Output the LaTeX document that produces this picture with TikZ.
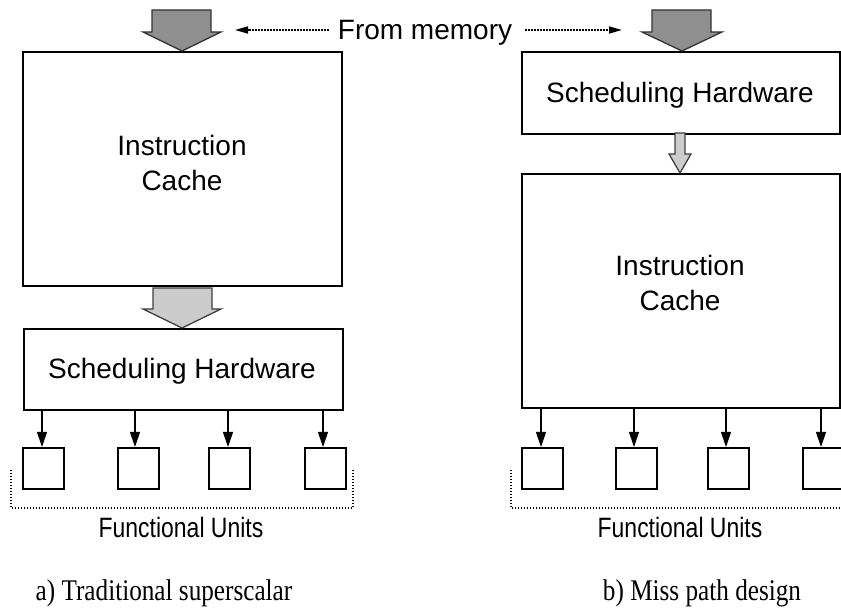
\documentclass[tikz,border=0pt]{standalone}
\usepackage{fontspec}
\setmainfont{Liberation Serif}
\setsansfont{Liberation Sans}
\usetikzlibrary{arrows.meta}

\tikzset{
  block/.style={draw, line width=1.6pt, inner sep=0pt, anchor=north west},
  unitbox/.style={draw, line width=1.6pt, inner sep=0pt, anchor=north west,
                  minimum width=41pt, minimum height=41pt},
  lbl/.style={inner sep=0pt, anchor=base, font=\sffamily\fontsize{28}{34}\selectfont},
  caption/.style={inner sep=0pt, anchor=base, font=\rmfamily\fontsize{30}{36}\selectfont},
  feed/.style={line width=1.2pt, -{Triangle[length=15pt,width=10pt]}},
  fatdark/.style={fill=black!44, draw=black!80, line width=1.3pt, line join=miter},
  fatlight/.style={fill=black!20, draw=black!75, line width=1.3pt, line join=miter},
  dotline/.style={line width=1.6pt, dash pattern=on 1.4pt off 1.6pt},
  memarrow/.style={dotline, -{Triangle[length=13pt,width=7pt]}, shorten >=0pt}
}

\begin{document}
\begin{tikzpicture}[x=1pt,y=-1pt]
\useasboundingbox (0,0) rectangle (841,609);

% ---------- a) traditional superscalar ----------
\node[block, minimum width=319pt, minimum height=234pt] (icA) at (22,51) {};
\node[lbl] (icAt1) at (182,156) {Instruction};
\node[lbl] (icAt2) at (182,191) {Cache};

\node[block, minimum width=319pt, minimum height=81pt] (shA) at (23,328) {};
\node[lbl] (shAt) at (182,379) {Scheduling Hardware};

% wide fetch arrows
\path[fatdark] (152,10) -- (211,10) -- (211,32) -- (221,32) -- (182,51)
  -- (143,32) -- (152,32) -- cycle;
\path[fatlight] (153,288) -- (212,288) -- (212,309) -- (221,309) -- (182,328)
  -- (143,309) -- (153,309) -- cycle;

% functional units
\node[unitbox] (uA1) at (22,447) {};
\node[unitbox] (uA2) at (117,447) {};
\node[unitbox] (uA3) at (208,447) {};
\node[unitbox] (uA4) at (304,447) {};
\coordinate (fA1) at (42,409);
\coordinate (fA2) at (135,409);
\coordinate (fA3) at (228,409);
\coordinate (fA4) at (323,409);
\foreach \i in {1,...,4} \draw[feed] (fA\i) -- (fA\i |- uA\i.north);

\draw[dotline] (11,470) -- (11,508) -- (353,508) -- (353,469);
\node[lbl] (fuA) at (181,537) {\scalebox{0.82}[1]{Functional Units}};
\node[caption] (capA) at (164,600) {\scalebox{0.84}[1]{a) Traditional superscalar}};

% ---------- b) miss path design ----------
\node[block, minimum width=318pt, minimum height=82pt] (shB) at (521,51) {};
\node[lbl] (shBt) at (680,103) {Scheduling Hardware};

\node[block, minimum width=318pt, minimum height=234pt] (icB) at (521,173) {};
\node[lbl] (icBt1) at (680,276) {Instruction};
\node[lbl] (icBt2) at (680,311) {Cache};

\path[fatdark] (652,10) -- (711,10) -- (711,32) -- (722,32) -- (682,51)
  -- (642,32) -- (652,32) -- cycle;
\path[fatlight] (675,133) -- (685,133) -- (685,154) -- (691,154) -- (680,173)
  -- (669,154) -- (675,154) -- cycle;

\node[unitbox] (uB1) at (521,447) {};
\node[unitbox] (uB2) at (615,447) {};
\node[unitbox] (uB3) at (707,447) {};
\node[unitbox] (uB4) at (802,447) {};
\coordinate (fB1) at (541,407);
\coordinate (fB2) at (634,407);
\coordinate (fB3) at (726,407);
\coordinate (fB4) at (821,407);
\foreach \i in {1,...,4} \draw[feed] (fB\i) -- (fB\i |- uB\i.north);

\draw[dotline] (511,470) -- (511,508) -- (848,508);
\node[lbl] (fuB) at (680,537) {\scalebox{0.82}[1]{Functional Units}};
\node[caption] (capB) at (702,600) {\scalebox{0.84}[1]{b) Miss path design}};

% ---------- shared memory label ----------
\node[lbl] (mem) at (425,40) {From memory};
\coordinate (memL) at (235,30);
\coordinate (memR) at (622,30);
\draw[memarrow] (mem.west |- memL) ++(-9,0) -- (memL);
\draw[memarrow] (mem.east |- memR) ++(13,0) -- (memR);
\end{tikzpicture}
\end{document}
